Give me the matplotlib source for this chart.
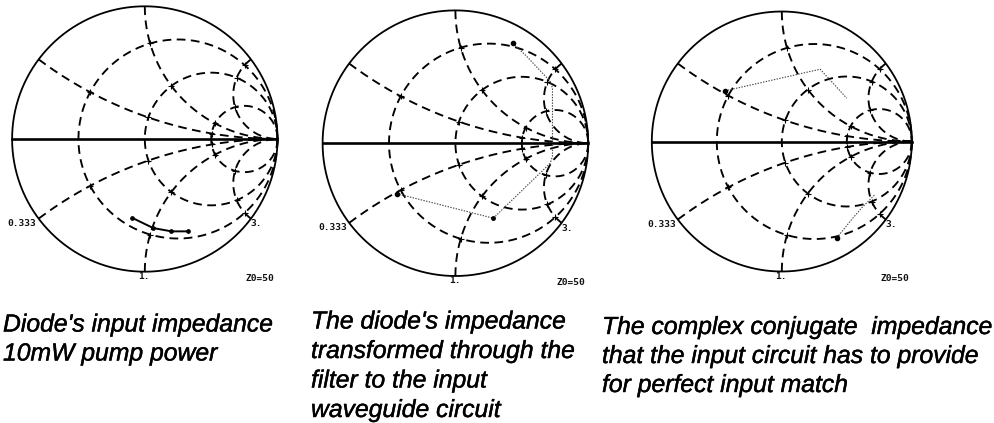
import numpy as np
import matplotlib
matplotlib.use("Agg")
import matplotlib.pyplot as plt
import matplotlib.patheffects as pe

plt.rcParams['lines.scale_dashes'] = False

W, H = 995, 423

# Smith chart grid values (normalised impedance)
resistances = [1/3, 1, 3]
reactances = [1/3, 1, 3, -1/3, -1, -3]

# Trajectories, as reflection coefficient (re, im)
diode_re = [-0.093, 0.063, 0.201, 0.327]
diode_im = [-0.595, -0.671, -0.696, -0.696]

filter_re = [0.432, 0.538, 0.714, 0.731, 0.731, 0.714, 0.349, 0.286, -0.354, -0.437]
filter_im = [0.754, 0.653, 0.465, 0.415, -0.100, -0.151, -0.503, -0.565, -0.402, -0.382]

conj_upper_re = [-0.436, 0.295, 0.500]
conj_upper_im = [0.390, 0.556, 0.333]
conj_lower_re = [0.423, 0.536, 0.613, 0.715]
conj_lower_im = [-0.741, -0.602, -0.512, -0.410]

captions = [
    ["Diode's input impedance", "10mW pump power"],
    ["The diode's impedance", "transformed through the", "filter to the input", "waveguide circuit"],
    ["The complex conjugate  impedance", "that the input circuit has to provide", "for perfect input match"],
]
chart_labels = ["0.333", "3.", "1.", "Z0=50"]


def gamma(z):
    return (z - 1) / (z + 1)


def add_chart(cx, cy, R):
    ax = fig.add_axes([(cx - R) / W, 1 - (cy + R) / H, 2 * R / W, 2 * R / H])
    ax.set_xlim(-1, 1)
    ax.set_ylim(-1, 1)
    ax.axis('off')
    dash = dict(color='black', lw=1.35, dashes=(6.3, 3.9), clip_on=False)
    t = np.linspace(0, np.pi / 2 * 0.9995, 1500)
    s = np.tan(t)
    for r in resistances:
        g = gamma(r + 1j * np.concatenate([-s[::-1], s]))
        ax.plot(g.real, g.imag, **dash)
    for x in reactances:
        g = gamma(s + 1j * x)
        ax.plot(g.real, g.imag, **dash)
    # small grid ticks at the crossings
    for r in resistances:
        for x in reactances:
            g = gamma(r + 1j * x)
            ax.plot(g.real, g.imag, marker='+', ms=4, mew=0.8, color='black', clip_on=False)
    th = np.linspace(0, 2 * np.pi, 720)
    ax.plot(np.cos(th), np.sin(th), color='black', lw=1.3, clip_on=False)
    ax.plot([-1, 1], [0, 0], color='black', lw=1.9, clip_on=False)
    lab = dict(family='DejaVu Sans Mono', weight='bold', fontsize=6.8, ha='center', va='center',
               color='#111111', clip_on=False)
    ax.text(-0.925, -0.638, chart_labels[0], **lab)
    ax.text(0.84, -0.64, chart_labels[1], **lab)
    ax.text(-0.005, -1.035, chart_labels[2], **lab)
    ax.text(0.87, -1.05, chart_labels[3], **lab)
    return ax


fig = plt.figure(figsize=(W / 100, H / 100), dpi=100, facecolor='white')

ax1 = add_chart(144.8, 139, 132.7)
ax2 = add_chart(455.4, 143.2, 132.8)
ax3 = add_chart(781.8, 141.5, 130)

ax1.plot(diode_re, diode_im, color='black', lw=1.4, marker='o', ms=2.4, clip_on=False)

dot = dict(color='#444444', lw=0.8, dashes=(1.0, 1.0))
ax2.plot(filter_re, filter_im, **dot)
for ax, xs, ys in [(ax2, filter_re, filter_im),
                   (ax3, conj_upper_re, conj_upper_im),
                   (ax3, conj_lower_re, conj_lower_im)]:
    if ax is ax3:
        ax.plot(xs, ys, **dot)
    ax.plot(xs[0], ys[0], 'o', color='black', ms=3)
ax2.plot(filter_re[-1], filter_im[-1], 'o', color='black', ms=3)
ax2.plot(filter_re[7], filter_im[7], 'o', color='black', ms=2.5)

caption_x = [3, 311, 602]
caption_y = [[331.5, 360.5],
             [328.5, 358, 387.5, 417],
             [334, 363, 392]]
effects = [pe.withStroke(linewidth=0.3, foreground='black')]
for lines, x0, ys in zip(captions, caption_x, caption_y):
    for line, y in zip(lines, ys):
        fig.text(x0 / W, 1 - y / H, line, family='Liberation Sans', style='italic', fontsize=17.8,
                 color='black', ha='left', va='baseline', path_effects=effects)

fig.savefig('out.png', dpi=100, facecolor='white')
